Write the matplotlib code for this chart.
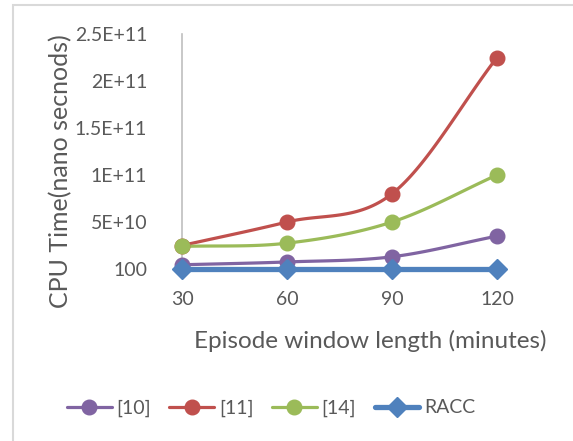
import numpy as np
import matplotlib
matplotlib.use("Agg")
import matplotlib.pyplot as plt
from matplotlib.patches import Rectangle
from matplotlib.lines import Line2D

x_vals = [30, 60, 90, 120]
s10 = [4.5e9, 7.5e9, 1.3e10, 3.5e10]
s11 = [2.5e10, 5.0e10, 8.0e10, 2.25e11]
s14 = [2.4e10, 2.75e10, 5.0e10, 1.0e11]
racc = [100, 100, 100, 100]
series_names = ["[10]", "[11]", "[14]", "RACC"]
colors = ["#8064A2", "#C0504D", "#9BBB59", "#4F81BD"]
y_ticks = [0, 5e10, 1e11, 1.5e11, 2e11, 2.5e11]
y_ticklabels = ["100", "5E+10", "1E+11", "1.5E+11", "2E+11", "2.5E+11"]

plt.rcParams['font.family'] = ['Lato', 'DejaVu Sans']
TXT = "#595959"


def smooth(xs, ys, n=40):
    xs = np.asarray(xs, float); ys = np.asarray(ys, float)
    px = np.concatenate([[2*xs[0]-xs[1]], xs, [2*xs[-1]-xs[-2]]])
    py = np.concatenate([[2*ys[0]-ys[1]], ys, [2*ys[-1]-ys[-2]]])
    ox, oy = [], []
    for i in range(1, len(px)-2):
        p0, p1, p2, p3 = [np.array([px[j], py[j]]) for j in (i-1, i, i+1, i+2)]
        c1 = p1 + (p2 - p0) / 6.0
        c2 = p2 - (p3 - p1) / 6.0
        t = np.linspace(0, 1, n)[:, None]
        b = (1-t)**3*p1 + 3*(1-t)**2*t*c1 + 3*(1-t)*t**2*c2 + t**3*p2
        ox.extend(b[:, 0]); oy.extend(b[:, 1])
    return np.array(ox), np.array(oy)


fig = plt.figure(figsize=(5.73, 4.41), dpi=100)
fig.patches.append(Rectangle((13/573, -0.1), 1.2, 1-5/441+0.1, transform=fig.transFigure,
                             fill=False, edgecolor="#d9d9d9", linewidth=1.5))
ax = fig.add_axes([182/573, 1-269/441, (497-182)/573, (269-34)/441])

handles = []
for name, ys, c in zip(series_names, [s10, s11, s14, racc], colors):
    sx, sy = smooth(x_vals, ys)
    if name == "RACC":
        ax.plot(sx, sy, color=c, lw=3.8, solid_capstyle='round', zorder=3, clip_on=False)
        ax.plot(x_vals, ys, color=c, marker='D', markersize=10, linestyle='none',
                zorder=4, clip_on=False)
        h = Line2D([], [], color=c, lw=3.8, marker='D', markersize=10, solid_capstyle='round')
    else:
        ax.plot(sx, sy, color=c, lw=2.3, solid_capstyle='round', zorder=3, clip_on=False)
        ax.plot(x_vals, ys, color=c, marker='o', markersize=10.5, linestyle='none',
                zorder=4, clip_on=False)
        h = Line2D([], [], color=c, lw=2.3, marker='o', markersize=10.5, solid_capstyle='round')
    handles.append(h)

ax.set_xlim(30, 120)
ax.set_ylim(0, 2.5e11)
ax.set_xticks(x_vals)
ax.set_xticklabels([str(v) for v in x_vals])
ax.set_yticks(y_ticks)
ax.set_yticklabels(y_ticklabels)
for s in ["top", "right", "bottom"]:
    ax.spines[s].set_visible(False)
ax.spines["left"].set_color("#bfbfbf")
ax.spines["left"].set_linewidth(1.2)
ax.tick_params(length=0, labelsize=14, colors=TXT)
ax.tick_params(axis='y', pad=25)
ax.tick_params(axis='x', pad=16)
ax.set_xlabel("Episode window length (minutes)", fontsize=17.5, color=TXT)
ax.set_ylabel("CPU Time(nano secnods)", fontsize=18, color=TXT)
ax.xaxis.set_label_coords((370-182)/315, (269-330)/235)
ax.yaxis.set_label_coords((72-182)/315, (269-171)/235)

fig.legend(handles, series_names, loc='center', bbox_to_anchor=(0.473, 1-408/441), ncol=4,
           frameon=False, fontsize=14, labelcolor=TXT, handlelength=2.3,
           handletextpad=0.25, columnspacing=0.95)

fig.savefig("out.png", dpi=100, facecolor="white")
